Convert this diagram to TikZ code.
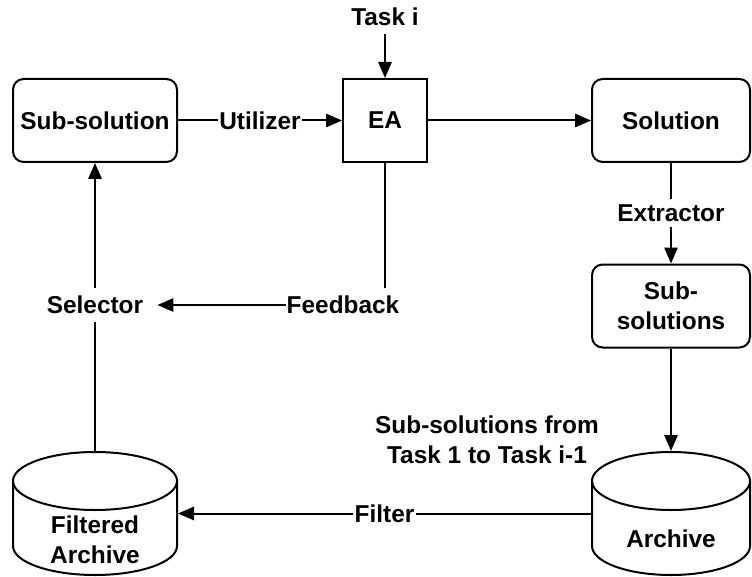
\documentclass[tikz,border=0pt]{standalone}
\usepackage{fontspec}
\setmainfont{Liberation Sans}
\usetikzlibrary{arrows.meta}
\begin{document}
\begin{tikzpicture}[x=0.75pt,y=-0.75pt,
  line width=1.5pt,
  >={Triangle[length=12pt,width=10pt]},
  every node/.style={font=\bfseries\fontsize{18.3}{22.5}\selectfont},
  rbox/.style={draw,rounded corners=8pt,minimum height=83*0.75pt,inner sep=0pt},
  sbox/.style={draw,minimum height=83*0.75pt,minimum width=84*0.75pt,inner sep=0pt},
  cylbox/.style={inner sep=0pt,minimum height=123*0.75pt},
  lbl/.style={fill=white,inner xsep=1pt,inner ysep=4pt},
  plain/.style={inner sep=3pt,align=center}]
\useasboundingbox (0,0) rectangle (752,577);

% nodes
\node[plain,inner ysep=5pt] (task) at (385,17) {Task i};
\node[sbox] (ea) at (385,120.5) {EA};
\node[rbox,minimum width=164*0.75pt] (subsol) at (95,120.5) {Sub-solution};
\node[rbox,minimum width=158*0.75pt] (sol) at (671,120.5) {Solution};
\node[rbox,minimum width=158*0.75pt,align=center] (subsols) at (671,306) {Sub-\\solutions};
\node[cylbox,minimum width=164*0.75pt] (farch) at (95,513.5) {};
\node[cylbox,minimum width=158*0.75pt] (arch) at (671,513.5) {};
\node[plain] (farchtxt) at (95,540) {Filtered\\Archive};
\node[plain] (archtxt) at (671,539) {Archive};
\node[plain] (hist) at (487,440) {Sub-solutions from\\Task 1 to Task i-1};
\node[inner xsep=10pt,inner ysep=5pt] (selector) at (95,305) {Selector};
\node[inner xsep=0pt,inner ysep=5pt] (feedback) at (343,305) {Feedback};

% cylinders
\draw (13,481) -- (13,546) arc[start angle=180,end angle=0,x radius=82,y radius=29] -- (177,481);
\draw (95,481) ellipse[x radius=82,y radius=29];
\draw (592,481) -- (592,546) arc[start angle=180,end angle=0,x radius=79,y radius=29] -- (750,481);
\draw (671,481) ellipse[x radius=79,y radius=29];

% connectors
\draw[->] (task) -- (ea);
\draw[->] (subsol) -- node[lbl]{Utilizer} (ea);
\draw[->] (ea) -- (sol);
\draw[->] (sol) -- node[lbl]{Extractor} (subsols);
\draw[->] (subsols) -- (arch);
\draw[->] (arch.west) -- node[lbl]{Filter} (farch.east);
\draw (farch.north) -- (selector);
\draw[->] (selector) -- (subsol);
\draw (ea.south) -- (ea.south |- feedback.north);
\draw[->] (feedback.west) -- (selector.east);
\end{tikzpicture}
\end{document}
